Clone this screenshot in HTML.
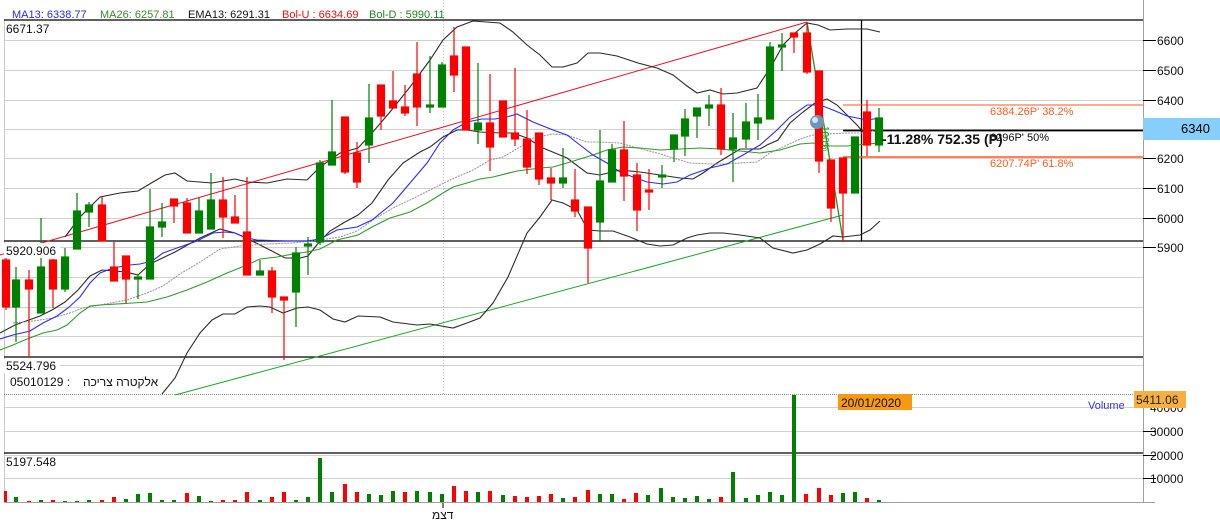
<!DOCTYPE html>
<html><head><meta charset="utf-8"><style>
body{margin:0;background:#fff}
svg{display:block;font-family:"Liberation Sans","Noto Sans CJK SC",sans-serif}
.ax{font-size:12px;fill:#111}
</style></head><body>
<svg width="1220" height="528" viewBox="0 0 1220 528">
<rect width="1220" height="528" fill="#fff"/>
<g stroke="#d0d0d0" stroke-width="1">
<line x1="4" y1="40.5" x2="1143" y2="40.5"/><line x1="4" y1="70.5" x2="1143" y2="70.5"/><line x1="4" y1="100.5" x2="1143" y2="100.5"/><line x1="4" y1="129.5" x2="1143" y2="129.5"/><line x1="4" y1="158.5" x2="1143" y2="158.5"/><line x1="4" y1="188.5" x2="1143" y2="188.5"/><line x1="4" y1="218.5" x2="1143" y2="218.5"/><line x1="4" y1="247.5" x2="1143" y2="247.5"/><line x1="4" y1="277.5" x2="1143" y2="277.5"/><line x1="4" y1="307.5" x2="1143" y2="307.5"/><line x1="4" y1="336.5" x2="1143" y2="336.5"/><line x1="4" y1="365.5" x2="1143" y2="365.5"/>
<line x1="4" y1="407.5" x2="1143" y2="407.5"/><line x1="4" y1="431.5" x2="1143" y2="431.5"/><line x1="4" y1="455.5" x2="1143" y2="455.5"/><line x1="4" y1="478.5" x2="1143" y2="478.5"/>
</g>
<line x1="4.5" y1="20" x2="4.5" y2="502" stroke="#c8c8c8"/>
<line x1="1143.5" y1="0" x2="1143.5" y2="502" stroke="#a0a0a0"/>
<line x1="443.5" y1="0" x2="443.5" y2="395" stroke="#c0c0c0" stroke-dasharray="1,2"/>
<line x1="4" y1="502.5" x2="1155" y2="502.5" stroke="#a0a0a0"/>
<line x1="4" y1="394.5" x2="1143" y2="394.5" stroke="#909090" stroke-dasharray="1,1"/>
<g stroke="#000" stroke-width="1.3">
<line x1="4" y1="20" x2="1143" y2="20"/>
<line x1="4" y1="241" x2="1143" y2="241"/>
<line x1="4" y1="357" x2="1143" y2="357"/>
<line x1="4" y1="453" x2="1143" y2="453"/>
<line x1="843" y1="130.5" x2="1220" y2="130.5" stroke-width="1.8"/>
<line x1="861.5" y1="20" x2="861.5" y2="241"/>
</g>
<line x1="843" y1="105" x2="1143" y2="105" stroke="#ff5a1e"/>
<line x1="843" y1="157" x2="1143" y2="157" stroke="#ff5a1e" stroke-width="1.5"/>
<line x1="0" y1="255" x2="807" y2="22" stroke="#e8102a"/>
<line x1="175" y1="395" x2="843" y2="215" stroke="#1aa52a"/>
<line x1="807" y1="22" x2="843" y2="240" stroke="#1a9a1a" stroke-width="1.3"/>
<g fill="none" stroke-width="1.1">
<polyline stroke="#2a2a2a" points="162,394 175,378 187,353 200,333 212,320 223,314 235,314 247,307 260,306 270,307 283,313 297,308 308,307 320,310 333,319 345,322 358,316 380,317 393,322 417,325 430,324 453,328 467,323 480,318 493,303 508,277 527,233 540,217 552,200 563,203 577,210 588,230 600,231 613,231 630,237 647,244 660,246 673,245 687,238 697,235 710,233 723,233 740,235 760,238 773,248 793,253 807,250 820,244 833,236 843,237 860,235 870,230 880,221"/>
<polyline stroke="#2a2a2a" points="65,237 80,217 100,197 120,193 138,191 153,182 165,175 175,173 187,181 212,183 235,179 248,182 267,183 287,179 307,180 320,167 340,153 358,148 372,133 390,112 410,87 430,60 443,40 457,27 473,21 500,23 513,32 527,45 540,55 552,67 563,67 577,63 588,53 600,53 617,56 638,63 657,68 673,75 687,86 697,93 710,90 723,94 737,93 757,88 772,65 783,45 795,33 807,23 818,25 830,30 847,29 867,29 880,32"/>
<polyline stroke="#2a2a2a" points="0,333 15,325 40,316 52,310 65,302 78,290 90,276 102,270 126,272 138,275 150,264 175,252 200,238 220,229 235,233 248,239 270,250 285,258 300,258 308,256 320,241 330,231 345,222 358,215 372,203 388,180 403,163 420,152 430,147 443,137 457,130 467,130 480,132 500,133 513,133 527,138 543,148 567,158 587,173 600,175 620,170 640,172 660,175 680,178 693,179 703,173 717,163 727,157 740,149 760,149 767,145 778,140 790,123 803,112 815,103 827,99 837,105 847,115 857,125 863,132"/>
<polyline stroke="#9a9a9a" stroke-dasharray="2,1" points="13,323 33,321 53,318 70,313 83,308 100,305 127,300 147,293 163,286 180,274 200,262 220,249 240,246 267,244 293,243 320,240 340,237 357,231 373,220 393,208 410,200 430,190 450,180 473,170 490,160 503,157 520,147 533,138 553,134 567,135 587,142 597,142 620,143 637,148 657,153 673,158 690,163 710,164 723,164 740,163 757,162 770,153 783,147 800,139 813,135 827,134 847,133 867,133 880,128"/>
<polyline stroke="#2f9a2f" points="0,350 13,345 27,339 43,333 57,330 67,325 80,313 90,306 100,305 133,303 147,302 167,297 187,290 207,282 227,273 247,265 260,259 277,257 293,254 307,252 320,249 337,240 358,235 372,227 390,218 410,212 427,203 443,193 453,187 467,183 480,179 493,177 517,171 540,168 553,167 567,163 580,159 593,155 607,150 623,147 640,148 660,150 680,149 700,148 720,149 740,151 760,153 780,150 800,144 813,143 827,146 847,146 867,144 880,143"/>
<polyline stroke="#2a2aff" points="0,339 13,335 30,331 43,323 57,316 68,308 80,297 90,283 100,273 113,268 130,265 140,264 152,261 163,253 177,248 197,241 213,233 225,232 235,233 247,238 257,240 287,241 307,241 320,239 337,230 357,227 372,220 393,203 410,183 427,163 440,143 453,130 467,122 482,119 495,119 507,117 517,114 533,122 553,130 567,135 580,145 593,155 607,163 620,172 633,177 647,182 663,184 677,182 690,175 710,168 727,164 743,155 760,145 777,130 790,117 807,105 820,105 833,110 847,116 867,120 880,118"/>
</g>
<g stroke-width="1.2">
<g stroke="#f00" fill="#f00">
<line x1="6" y1="258" x2="6" y2="310"/><rect x="2.5" y="260" width="7" height="47"/>
<line x1="29" y1="270" x2="29" y2="357"/><rect x="25.5" y="280" width="7" height="9"/>
<line x1="53" y1="259" x2="53" y2="308"/><rect x="49.5" y="260" width="7" height="29"/>
<line x1="102" y1="197" x2="102" y2="241"/><rect x="98.5" y="205" width="7" height="36"/>
<line x1="114" y1="242" x2="114" y2="281"/><rect x="110.5" y="267" width="7" height="14"/>
<line x1="126" y1="256" x2="126" y2="303"/><rect x="122.5" y="256" width="7" height="23"/>
<line x1="174" y1="199" x2="174" y2="223"/><rect x="170.5" y="199" width="7" height="7"/>
<line x1="187" y1="198" x2="187" y2="233"/><rect x="183.5" y="203" width="7" height="30"/>
<line x1="223" y1="177" x2="223" y2="238"/><rect x="219.5" y="200" width="7" height="17"/>
<line x1="235" y1="195" x2="235" y2="223"/><rect x="231.5" y="217" width="7" height="6"/>
<line x1="247" y1="177" x2="247" y2="275"/><rect x="243.5" y="232" width="7" height="43"/>
<line x1="272" y1="267" x2="272" y2="313"/><rect x="268.5" y="271" width="7" height="26"/>
<line x1="284" y1="298" x2="284" y2="360"/><rect x="280.5" y="297" width="7" height="3"/>
<line x1="345" y1="117" x2="345" y2="174"/><rect x="341.5" y="117" width="7" height="55"/>
<line x1="357" y1="142" x2="357" y2="188"/><rect x="353.5" y="153" width="7" height="29"/>
<line x1="381" y1="85" x2="381" y2="130"/><rect x="377.5" y="85" width="7" height="31"/>
<line x1="393" y1="71" x2="393" y2="108"/><rect x="389.5" y="101" width="7" height="7"/>
<line x1="405" y1="85" x2="405" y2="116"/><rect x="401.5" y="107" width="7" height="6"/>
<line x1="417" y1="42" x2="417" y2="126"/><rect x="413.5" y="74" width="7" height="33"/>
<line x1="454" y1="27" x2="454" y2="92"/><rect x="450.5" y="56" width="7" height="19"/>
<line x1="466" y1="47" x2="466" y2="130"/><rect x="462.5" y="47" width="7" height="83"/>
<line x1="490" y1="74" x2="490" y2="171"/><rect x="486.5" y="123" width="7" height="24"/>
<line x1="503" y1="101" x2="503" y2="137"/><rect x="499.5" y="101" width="7" height="36"/>
<line x1="515" y1="68" x2="515" y2="146"/><rect x="511.5" y="133" width="7" height="6"/>
<line x1="527" y1="110" x2="527" y2="174"/><rect x="523.5" y="139" width="7" height="28"/>
<line x1="539" y1="133" x2="539" y2="185"/><rect x="535.5" y="133" width="7" height="46"/>
<line x1="551" y1="168" x2="551" y2="200"/><rect x="547.5" y="178" width="7" height="5"/>
<line x1="575" y1="169" x2="575" y2="217"/><rect x="571.5" y="200" width="7" height="11"/>
<line x1="588" y1="207" x2="588" y2="283"/><rect x="584.5" y="207" width="7" height="41"/>
<line x1="624" y1="121" x2="624" y2="201"/><rect x="620.5" y="150" width="7" height="26"/>
<line x1="637" y1="163" x2="637" y2="231"/><rect x="633.5" y="175" width="7" height="35"/>
<line x1="649" y1="169" x2="649" y2="210"/><rect x="645.5" y="190" width="7" height="2"/>
<line x1="721" y1="88" x2="721" y2="155"/><rect x="717.5" y="105" width="7" height="44"/>
<line x1="794" y1="33" x2="794" y2="53"/><rect x="790.5" y="33" width="7" height="4"/>
<line x1="807" y1="22" x2="807" y2="74"/><rect x="803.5" y="33" width="7" height="39"/>
<line x1="819" y1="71" x2="819" y2="173"/><rect x="815.5" y="71" width="7" height="90"/>
<line x1="831" y1="160" x2="831" y2="222"/><rect x="827.5" y="160" width="7" height="48"/>
<line x1="843" y1="158" x2="843" y2="242"/><rect x="839.5" y="158" width="7" height="35"/>
<line x1="867" y1="100" x2="867" y2="156"/><rect x="863.5" y="112" width="7" height="33"/>
</g>
<g stroke="#008000" fill="#008000">
<line x1="16" y1="267" x2="16" y2="342"/><rect x="12.5" y="280" width="7" height="27"/>
<line x1="41" y1="218" x2="41" y2="313"/><rect x="37.5" y="267" width="7" height="46"/>
<line x1="65" y1="248" x2="65" y2="292"/><rect x="61.5" y="257" width="7" height="32"/>
<line x1="77" y1="193" x2="77" y2="249"/><rect x="73.5" y="211" width="7" height="38"/>
<line x1="89" y1="202" x2="89" y2="227"/><rect x="85.5" y="205" width="7" height="7"/>
<line x1="138" y1="274" x2="138" y2="299"/><rect x="134.5" y="277" width="7" height="2"/>
<line x1="150" y1="189" x2="150" y2="279"/><rect x="146.5" y="227" width="7" height="52"/>
<line x1="162" y1="203" x2="162" y2="237"/><rect x="158.5" y="222" width="7" height="5"/>
<line x1="199" y1="198" x2="199" y2="233"/><rect x="195.5" y="211" width="7" height="22"/>
<line x1="211" y1="173" x2="211" y2="229"/><rect x="207.5" y="200" width="7" height="29"/>
<line x1="260" y1="260" x2="260" y2="275"/><rect x="256.5" y="271" width="7" height="4"/>
<line x1="296" y1="247" x2="296" y2="327"/><rect x="292.5" y="253" width="7" height="39"/>
<line x1="308" y1="237" x2="308" y2="275"/><rect x="304.5" y="244" width="7" height="2"/>
<line x1="320" y1="160" x2="320" y2="245"/><rect x="316.5" y="163" width="7" height="79"/>
<line x1="332" y1="100" x2="332" y2="165"/><rect x="328.5" y="152" width="7" height="13"/>
<line x1="369" y1="84" x2="369" y2="163"/><rect x="365.5" y="118" width="7" height="27"/>
<line x1="430" y1="56" x2="430" y2="113"/><rect x="426.5" y="105" width="7" height="2"/>
<line x1="442" y1="62" x2="442" y2="107"/><rect x="438.5" y="65" width="7" height="42"/>
<line x1="478" y1="63" x2="478" y2="144"/><rect x="474.5" y="123" width="7" height="7"/>
<line x1="563" y1="148" x2="563" y2="188"/><rect x="559.5" y="178" width="7" height="5"/>
<line x1="600" y1="130" x2="600" y2="242"/><rect x="596.5" y="181" width="7" height="41"/>
<line x1="612" y1="144" x2="612" y2="182"/><rect x="608.5" y="150" width="7" height="32"/>
<line x1="662" y1="165" x2="662" y2="188"/><rect x="658.5" y="175" width="7" height="2"/>
<line x1="674" y1="135" x2="674" y2="162"/><rect x="670.5" y="135" width="7" height="14"/>
<line x1="685" y1="109" x2="685" y2="156"/><rect x="681.5" y="119" width="7" height="17"/>
<line x1="697" y1="108" x2="697" y2="138"/><rect x="693.5" y="108" width="7" height="8"/>
<line x1="709" y1="95" x2="709" y2="126"/><rect x="705.5" y="105" width="7" height="3"/>
<line x1="733" y1="113" x2="733" y2="182"/><rect x="729.5" y="138" width="7" height="11"/>
<line x1="746" y1="103" x2="746" y2="148"/><rect x="742.5" y="122" width="7" height="17"/>
<line x1="758" y1="94" x2="758" y2="140"/><rect x="754.5" y="118" width="7" height="5"/>
<line x1="770" y1="42" x2="770" y2="119"/><rect x="766.5" y="47" width="7" height="72"/>
<line x1="782" y1="33" x2="782" y2="71"/><rect x="778.5" y="45" width="7" height="2"/>
<line x1="855" y1="137" x2="855" y2="193"/><rect x="851.5" y="137" width="7" height="56"/>
<line x1="879" y1="108" x2="879" y2="152"/><rect x="875.5" y="118" width="7" height="27"/>
</g>
</g>
<circle cx="817" cy="122" r="7" fill="#6f93bd"/><circle cx="815" cy="120" r="3" fill="#d8e6f5"/>
<text x="0" y="0" transform="translate(822,126) rotate(90)" font-size="10" fill="#1a9a1a">100%</text>
<g fill="#008000">
<rect x="14" y="497" width="4" height="5"/><rect x="39" y="500" width="4" height="2"/><rect x="63" y="501" width="4" height="1"/><rect x="75" y="501" width="4" height="1"/><rect x="87" y="500" width="4" height="2"/><rect x="124" y="499" width="4" height="3"/><rect x="136" y="494" width="4" height="8"/><rect x="148" y="493" width="4" height="9"/><rect x="160" y="500" width="4" height="2"/><rect x="172" y="500" width="4" height="2"/><rect x="197" y="496" width="4" height="6"/><rect x="209" y="501" width="4" height="1"/><rect x="258" y="500" width="4" height="2"/><rect x="294" y="500" width="4" height="2"/><rect x="306" y="497" width="4" height="5"/><rect x="318" y="458" width="4" height="44"/><rect x="330" y="492" width="4" height="10"/><rect x="367" y="494" width="4" height="8"/><rect x="379" y="495" width="4" height="7"/><rect x="391" y="491" width="4" height="11"/><rect x="415" y="491" width="4" height="11"/><rect x="428" y="492" width="4" height="10"/><rect x="440" y="494" width="4" height="8"/><rect x="476" y="492" width="4" height="10"/><rect x="501" y="495" width="4" height="7"/><rect x="561" y="498" width="4" height="4"/><rect x="598" y="494" width="4" height="8"/><rect x="610" y="494" width="4" height="8"/><rect x="646" y="495" width="4" height="7"/><rect x="659" y="488" width="4" height="14"/><rect x="671" y="497" width="4" height="5"/><rect x="683" y="498" width="4" height="4"/><rect x="695" y="496" width="4" height="6"/><rect x="707" y="499" width="4" height="3"/><rect x="731" y="472" width="4" height="30"/><rect x="744" y="498" width="4" height="4"/><rect x="756" y="495" width="4" height="7"/><rect x="768" y="492" width="4" height="10"/><rect x="780" y="495" width="4" height="7"/><rect x="792" y="395" width="4" height="107"/><rect x="841" y="493" width="4" height="9"/><rect x="853" y="492" width="4" height="10"/><rect x="877" y="500" width="4" height="2"/>
</g>
<g fill="#f00">
<rect x="4" y="491" width="3" height="11"/><rect x="27" y="501" width="4" height="1"/><rect x="51" y="500" width="4" height="2"/><rect x="100" y="500" width="4" height="2"/><rect x="112" y="497" width="4" height="5"/><rect x="185" y="493" width="4" height="9"/><rect x="221" y="500" width="4" height="2"/><rect x="233" y="500" width="4" height="2"/><rect x="245" y="492" width="4" height="10"/><rect x="270" y="497" width="4" height="5"/><rect x="282" y="492" width="4" height="10"/><rect x="343" y="484" width="4" height="18"/><rect x="355" y="492" width="4" height="10"/><rect x="403" y="492" width="4" height="10"/><rect x="452" y="486" width="4" height="16"/><rect x="464" y="491" width="4" height="11"/><rect x="488" y="491" width="4" height="11"/><rect x="513" y="496" width="4" height="6"/><rect x="525" y="497" width="4" height="5"/><rect x="537" y="496" width="4" height="6"/><rect x="549" y="494" width="4" height="8"/><rect x="573" y="497" width="4" height="5"/><rect x="586" y="490" width="4" height="12"/><rect x="622" y="499" width="4" height="3"/><rect x="634" y="493" width="4" height="9"/><rect x="719" y="497" width="4" height="5"/><rect x="804" y="494" width="4" height="8"/><rect x="817" y="488" width="4" height="14"/><rect x="829" y="495" width="4" height="7"/><rect x="865" y="498" width="4" height="4"/>
</g>
<line x1="443" y1="503" x2="443" y2="508" stroke="#000"/>
<g stroke="#000"><line x1="1143" y1="40.5" x2="1156" y2="40.5"/><line x1="1143" y1="70.5" x2="1156" y2="70.5"/><line x1="1143" y1="100.5" x2="1156" y2="100.5"/><line x1="1143" y1="158.5" x2="1156" y2="158.5"/><line x1="1143" y1="188.5" x2="1156" y2="188.5"/><line x1="1143" y1="218.5" x2="1156" y2="218.5"/><line x1="1143" y1="247.5" x2="1156" y2="247.5"/><line x1="1143" y1="407.5" x2="1156" y2="407.5"/><line x1="1143" y1="431.5" x2="1156" y2="431.5"/><line x1="1143" y1="455.5" x2="1156" y2="455.5"/><line x1="1143" y1="478.5" x2="1156" y2="478.5"/></g>
<g class="ax">
<text x="1157" y="45">6600</text><text x="1157" y="75">6500</text><text x="1157" y="105">6400</text><text x="1157" y="134">6300</text><text x="1157" y="163">6200</text><text x="1157" y="193">6100</text><text x="1157" y="223">6000</text><text x="1157" y="252">5900</text>
<text x="1150" y="412">40000</text><text x="1150" y="436">30000</text><text x="1150" y="460">20000</text><text x="1150" y="483">10000</text>
</g>
<rect x="1143" y="118" width="77" height="22" fill="#87cefa"/>
<text x="1181" y="133" font-size="13" fill="#000">6340</text>
<rect x="1134" y="391" width="52" height="17" fill="#f7b040"/>
<text x="1136" y="404" font-size="12" fill="#222">5411.06</text>
<text x="1088" y="409" font-size="11" fill="#3030ff">Volume</text>
<rect x="838" y="394" width="74" height="16" fill="#f59a12"/>
<text x="841" y="407" font-size="12" fill="#111">20/01/2020</text>
<text x="990" y="115" font-size="11" fill="#ff5a1e">6384.26P'  38.2%</text>
<text x="990" y="141" font-size="11" fill="#111">6296P'  50%</text>
<text x="990" y="167" font-size="11" fill="#ff5a1e">6207.74P'  61.8%</text>
<text x="882" y="144" font-size="14" font-weight="bold" fill="#111">-11.28% 752.35 (P)</text>
<g font-size="11">
<text x="12" y="18" fill="#2a2aff">MA13: 6338.77</text>
<text x="100" y="18" fill="#3a8a2a">MA26: 6257.81</text>
<text x="188" y="18" fill="#111">EMA13: 6291.31</text>
<text x="282" y="18" fill="#f01010">Bol-U : 6634.69</text>
<text x="369" y="18" fill="#1a8a1a">Bol-D : 5990.11</text>
</g>
<g font-size="12" fill="#111">
<text x="6" y="33">6671.37</text>
<rect x="4" y="243" width="56" height="15" fill="#fff"/><text x="6" y="255">5920.906</text>
<rect x="4" y="359" width="56" height="14" fill="#fff"/><text x="6" y="370">5524.796</text>
<text x="10" y="386">05010129 :</text>
<text x="83" y="386" font-family="'Liberation Sans','Noto Sans CJK JP',sans-serif">אלקטרה צריכה</text>
<text x="6" y="466">5197.548</text>
<text x="432" y="519">דצמ</text>
</g>
</svg>
</body></html>
